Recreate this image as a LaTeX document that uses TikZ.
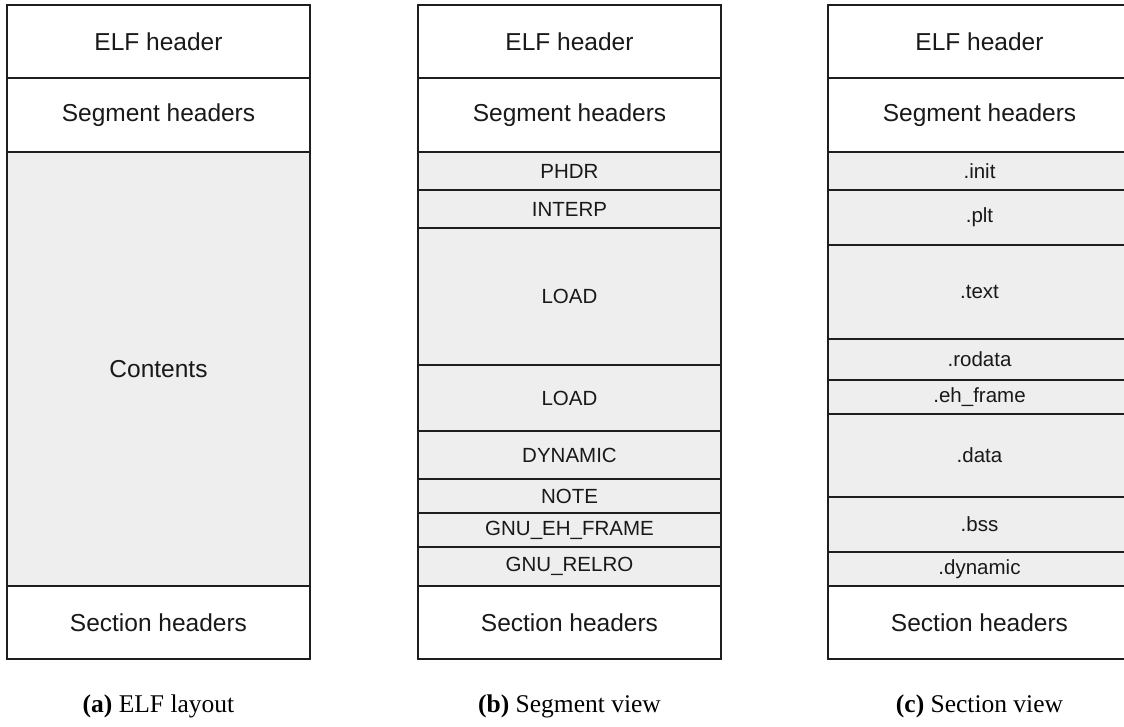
\documentclass[tikz,border=0pt]{standalone}
\usepackage{fontspec}
\newfontfamily\arialfont{Liberation Sans}
\newfontfamily\capfont{Liberation Serif}
\usetikzlibrary{positioning}

\definecolor{partfill}{HTML}{EEEEEE}
\definecolor{partline}{HTML}{1E1E1E}

\begin{document}
\begin{tikzpicture}[x=1pt,y=-1pt,
	part/.style={draw=partline, line width=1.3pt},
	bigtext/.style={font=\arialfont\fontsize{24.5}{28}\selectfont, text=black!90},
	smalltext/.style={font=\arialfont\fontsize{20.5}{24}\selectfont, text=black!90},
	subcaption/.style={font=\capfont\fontsize{25.5}{28}\selectfont, anchor=base}]

\useasboundingbox (0,0) rectangle (1124,726);
\clip (0,0) rectangle (1124,726);

%Dimensions
\def \colw{303}
\def \xa{7}
\def \xb{418}
\def \xc{828}
\def \ytop{5}
\def \yelf{78}
\def \yseg{152}
\def \ysec{586}
\def \ybot{659}
\def \ycap{712}

%%% (a) ELF layout %%%
\draw[part, fill=white] (\xa,\ytop) rectangle (\xa+\colw,\yelf) node[midway, bigtext] (a-elf) {ELF header};
\draw[part, fill=white] (\xa,\yelf) rectangle (\xa+\colw,\yseg) node[midway, bigtext] (a-seg) {Segment headers};
\draw[part, fill=partfill] (\xa,\yseg) rectangle (\xa+\colw,\ysec) node[midway, bigtext] (a-content) {Contents};
\draw[part, fill=white] (\xa,\ysec) rectangle (\xa+\colw,\ybot) node[midway, bigtext] (a-sec) {Section headers};

%%% (b) Segment view %%%
\draw[part, fill=white] (\xb,\ytop) rectangle (\xb+\colw,\yelf) node[midway, bigtext] (b-elf) {ELF header};
\draw[part, fill=white] (\xb,\yelf) rectangle (\xb+\colw,\yseg) node[midway, bigtext] (b-seg) {Segment headers};

%Segments
\foreach \yu/\yd/\nom/\txt in {152/190/phdr/PHDR, 190/228/interp/INTERP, 228/365/loada/LOAD,
	365/431/loadb/LOAD, 431/479/dynamic/DYNAMIC, 479/513/note/NOTE,
	513/547/ehframe/GNU\_EH\_FRAME, 547/586/relro/GNU\_RELRO}
	\draw[part, fill=partfill] (\xb,\yu) rectangle (\xb+\colw,\yd) node[midway, smalltext] (b-\nom) {\txt};

\draw[part, fill=white] (\xb,\ysec) rectangle (\xb+\colw,\ybot) node[midway, bigtext] (b-sec) {Section headers};

%%% (c) Section view %%%
\draw[part, fill=white] (\xc,\ytop) rectangle (\xc+\colw,\yelf) node[midway, bigtext] (c-elf) {ELF header};
\draw[part, fill=white] (\xc,\yelf) rectangle (\xc+\colw,\yseg) node[midway, bigtext] (c-seg) {Segment headers};

%Sections
\foreach \yu/\yd/\nom/\txt in {152/190/init/.init, 190/245/plt/.plt, 245/339/text/.text,
	339/380/rodata/.rodata, 380/414/ehframe/.eh\_frame, 414/497/data/.data,
	497/552/bss/.bss, 552/586/dynamic/.dynamic}
	\draw[part, fill=partfill] (\xc,\yu) rectangle (\xc+\colw,\yd) node[midway, smalltext] (c-\nom) {\txt};

\draw[part, fill=white] (\xc,\ysec) rectangle (\xc+\colw,\ybot) node[midway, bigtext] (c-sec) {Section headers};

%Captions
\node[subcaption] (cap-a) at (\xa+0.5*\colw,\ycap) {\textbf{(a)} ELF layout};
\node[subcaption] (cap-b) at (\xb+0.5*\colw,\ycap) {\textbf{(b)} Segment view};
\node[subcaption] (cap-c) at (\xc+0.5*\colw,\ycap) {\textbf{(c)} Section view};

\end{tikzpicture}
\end{document}
